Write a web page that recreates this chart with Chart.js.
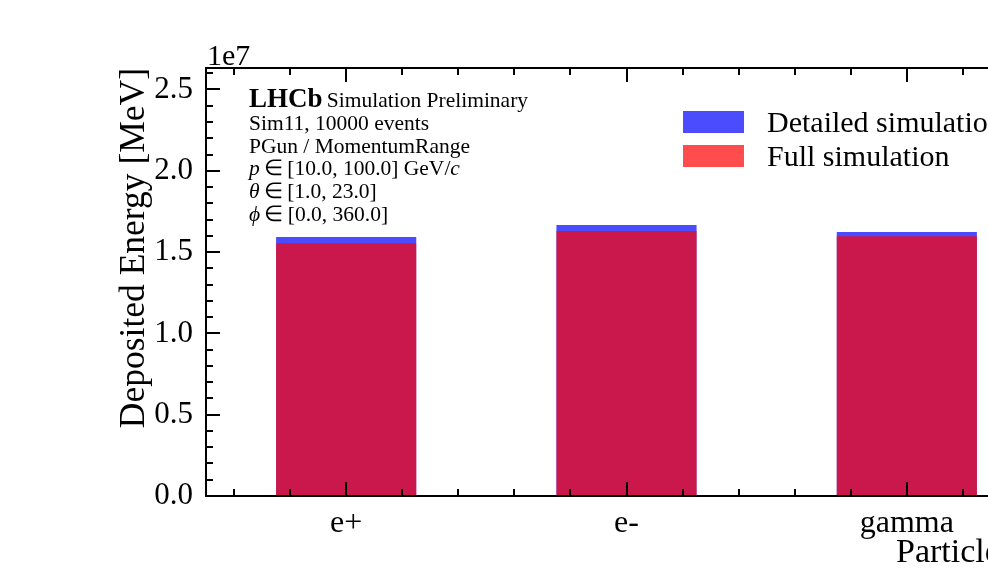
<!DOCTYPE html>
<html>
<head>
<meta charset="utf-8">
<script src="https://cdn.jsdelivr.net/npm/chart.js@4.4.0/dist/chart.umd.min.js"></script>
<style>
  html, body { margin: 0; padding: 0; background: #fff; overflow: hidden; }
  #wrap { width: 988px; height: 574px; overflow: hidden; }
</style>
</head>
<body>
<div id="wrap"><canvas id="chart" width="1100" height="574"></canvas></div>
<script>
/* Deposited energy per particle, Detailed vs Full simulation */

const particles = ['e+', 'e-', 'gamma'];
const detailedEnergy = [1.592e7, 1.666e7, 1.623e7];   // MeV
const fullEnergy     = [1.555e7, 1.629e7, 1.598e7];   // MeV

const yMax = 2.632e7;
const yMajorTicks = [0, 0.5e7, 1.0e7, 1.5e7, 2.0e7, 2.5e7];
const yTickLabels = ['0.0', '0.5', '1.0', '1.5', '2.0', '2.5'];

const infoLines = [
  'Sim11, 10000 events',
  'PGun / MomentumRange',
];

const SERIF = '"Liberation Serif", "Times New Roman", serif';
const BLUE = 'rgba(0, 0, 255, 0.7)';
const RED  = 'rgba(255, 0, 0, 0.7)';

/* 축 테두리 + 안쪽 눈금, 범례, 주석 */
const decorations = {
  id: 'decorations',
  afterDatasetsDraw(chart) {
    const { ctx, chartArea: a, scales: { x, y } } = chart;
    ctx.save();
    ctx.strokeStyle = '#000';
    ctx.lineWidth = 2;
    ctx.strokeRect(a.left, a.top, a.right - a.left, a.bottom - a.top);

    // y ticks (major 0.5e7, minor 0.1e7)
    ctx.beginPath();
    for (let i = 0; i * 1e6 <= yMax; i++) {
      const py = Math.round(y.getPixelForValue(i * 1e6));
      const len = i % 5 === 0 ? 14 : 7;
      ctx.moveTo(a.left, py); ctx.lineTo(a.left + len, py);
      ctx.moveTo(a.right, py); ctx.lineTo(a.right - len, py);
    }
    // x ticks (major at categories, minor every 0.2)
    for (let k = -2; k <= (particles.length - 1) * 5 + 2; k++) {
      const px = Math.round(x.getPixelForValue(k / 5));
      const len = k % 5 === 0 ? 14 : 7;
      ctx.moveTo(px, a.bottom); ctx.lineTo(px, a.bottom - len);
      ctx.moveTo(px, a.top); ctx.lineTo(px, a.top + len);
    }
    ctx.stroke();

    // offset text
    ctx.fillStyle = '#000';
    ctx.textBaseline = 'alphabetic';
    ctx.font = `30px ${SERIF}`;
    ctx.textAlign = 'left';
    ctx.fillText('1e7', a.left + 1, a.top - 3);

    // axis titles
    ctx.font = `34px ${SERIF}`;
    ctx.fillText('Particle type', 896, 562);
    ctx.save();
    ctx.translate(144, a.top);
    ctx.rotate(-Math.PI / 2);
    ctx.textAlign = 'right';
    ctx.font = `35.5px ${SERIF}`;
    ctx.fillText('Deposited Energy [MeV]', 0, 0);
    ctx.restore();

    // legend
    ctx.textAlign = 'left';
    const legend = [['Detailed simulation', BLUE], ['Full simulation', RED]];
    legend.forEach(([label, color], i) => {
      const top = 111 + i * 34;
      ctx.fillStyle = color;
      ctx.fillRect(683, top, 61, 22);
      ctx.fillStyle = '#000';
      ctx.font = `30px ${SERIF}`;
      ctx.fillText(label, 767, top + 21);
    });

    // LHCb annotation
    const runs = (xs, yb, parts) => {
      let cx = xs;
      parts.forEach(([t, f]) => {
        ctx.font = f;
        ctx.fillText(t, cx, yb);
        cx += ctx.measureText(t).width;
      });
    };
    const reg = `21.5px ${SERIF}`;
    const ita = `italic 21.5px ${SERIF}`;
    runs(249, 107, [['LHCb', `bold 27px ${SERIF}`], ['\u2009Simulation Preliminary', reg]]);
    ctx.font = reg;
    infoLines.forEach((t, i) => ctx.fillText(t, 249, 130 + i * 23));
    runs(249, 175, [['p', ita], ['\u2009\u2208\u2009[10.0, 100.0] GeV/', reg], ['c', ita]]);
    runs(249, 198, [['\u03b8', ita], ['\u2009\u2208\u2009[1.0, 23.0]', reg]]);
    runs(249, 221, [['\u03d5', ita], ['\u2009\u2208\u2009[0.0, 360.0]', reg]]);

    ctx.restore();
  }
};

new Chart(document.getElementById('chart'), {
  type: 'bar',
  data: {
    labels: particles,
    datasets: [
      { label: 'Detailed simulation', data: detailedEnergy, backgroundColor: BLUE, order: 1 },
      { label: 'Full simulation', data: fullEnergy, backgroundColor: RED, order: 0 },
    ],
  },
  options: {
    responsive: false,
    animation: false,
    devicePixelRatio: 1,
    layout: { padding: { top: 68, right: 53, left: 0, bottom: 0 } },
    datasets: { bar: { grouped: false, categoryPercentage: 1, barPercentage: 0.5 } },
    plugins: { legend: { display: false }, tooltip: { enabled: false } },
    scales: {
      x: {
        grid: { display: false, drawTicks: false },
        border: { display: false },
        ticks: { color: '#000', font: { family: SERIF, size: 32 }, padding: 8 },
        afterFit: s => { s.height = 78; },
      },
      y: {
        min: 0,
        max: yMax,
        grid: { display: false, drawTicks: false },
        border: { display: false },
        afterBuildTicks: s => { s.ticks = yMajorTicks.map(v => ({ value: v })); },
        ticks: {
          autoSkip: false,
          color: '#000',
          font: { family: SERIF, size: 31 },
          padding: 13,
          callback: (v, i) => yTickLabels[i],
        },
        afterFit: s => { s.width = 206; },
      },
    },
  },
  plugins: [decorations],
});
</script>
</body>
</html>
